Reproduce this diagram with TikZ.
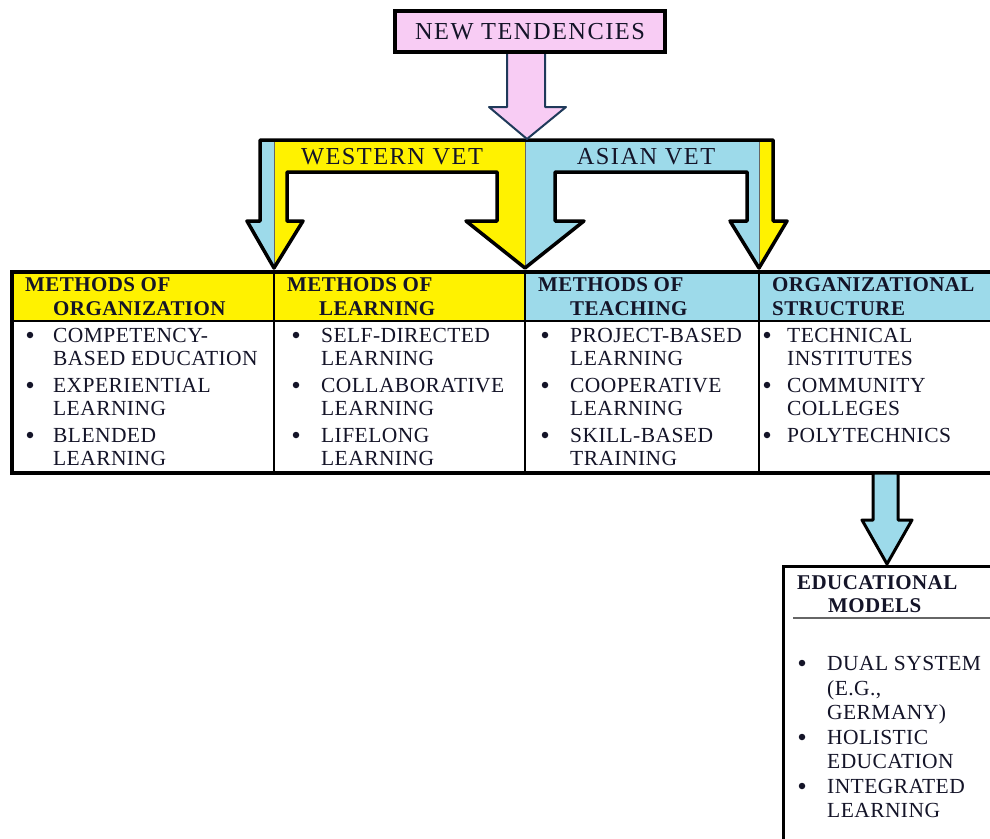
\documentclass[tikz,border=0pt]{standalone}
\usepackage{fontspec}
\setmainfont{Liberation Serif}
\newfontfamily\bodyf{Liberation Serif}[LetterSpace=2]
\newfontfamily\headf{Liberation Serif}[LetterSpace=2]
\newfontfamily\topf{Liberation Serif}[LetterSpace=6]
\definecolor{vyel}{HTML}{FFF200}
\definecolor{vblu}{HTML}{9DDAEA}
\definecolor{vpnk}{HTML}{F8CCF4}
\definecolor{navy}{HTML}{1F3A5A}
\definecolor{ink}{HTML}{141428}
\tikzset{
  bodytxt/.style={anchor=base west, inner sep=0pt, font=\bodyf\fontsize{21.5}{24}\selectfont, text=ink},
  headtxt/.style={anchor=base west, inner sep=0pt, font=\headf\bfseries\fontsize{21}{24}\selectfont, text=ink},
  toptxt/.style={inner sep=0pt, font=\topf\fontsize{24.4}{27}\selectfont, text=ink},
  bul/.style={circle, fill=ink, inner sep=0pt, minimum size=6.5pt},
  thick line/.style={line width=3.5pt, line join=round},
  divider/.style={line width=0.8pt, draw=black!60},
}
\begin{document}
\begin{tikzpicture}[x=1pt,y=-1pt]
\useasboundingbox (0,0) rectangle (990,838);
\clip (0,0) rectangle (990,838);
\fill[white] (0,0) rectangle (990,838);

% ---- Western VET (yellow) ----
\fill[vyel] (260,140) -- (525,140) -- (525,268) -- (466,221) -- (497,221) -- (497,172) -- (287,172) -- (287,221) -- (303,221) -- (274,268) -- (247,221) -- (260,221) -- cycle;
\begin{scope}
  \clip (200,130) rectangle (274,280);
  \fill[vblu] (260,140) -- (525,140) -- (525,268) -- (466,221) -- (497,221) -- (497,172) -- (287,172) -- (287,221) -- (303,221) -- (274,268) -- (247,221) -- (260,221) -- cycle;
\end{scope}
% ---- Asian VET (blue) ----
\fill[vblu] (525,140) -- (773,140) -- (773,221) -- (787,221) -- (759,268) -- (730,221) -- (747,221) -- (747,172) -- (555,172) -- (555,221) -- (584,221) -- (525,268) -- cycle;
\begin{scope}
  \clip (759,130) rectangle (800,280);
  \fill[vyel] (525,140) -- (773,140) -- (773,221) -- (787,221) -- (759,268) -- (730,221) -- (747,221) -- (747,172) -- (555,172) -- (555,221) -- (584,221) -- (525,268) -- cycle;
\end{scope}
\draw[divider] (274,140) -- (274,268);
\draw[divider] (525,140) -- (525,268);
\draw[divider] (759,140) -- (759,268);
\draw[thick line] (260,140) -- (773,140) -- (773,221) -- (787,221) -- (759,268) -- (730,221) -- (747,221) -- (747,172) -- (555,172) -- (555,221) -- (584,221) -- (525,268) -- (466,221) -- (497,221) -- (497,172) -- (287,172) -- (287,221) -- (303,221) -- (274,268) -- (247,221) -- (260,221) -- cycle;
\node[toptxt] (west) at (392,157) {WESTERN VET};
\node[toptxt] (asia) at (646,157) {ASIAN VET};

% ---- New tendencies ----
\draw[fill=vpnk, draw=navy, line width=2pt, line join=round] (507,52) -- (545,52) -- (545,107) -- (566,107) -- (527,139) -- (489,107) -- (507,107) -- cycle;
\node[draw=black, fill=vpnk, line width=3.5pt, minimum width=270pt, minimum height=41pt, inner sep=0pt, font=\topf\fontsize{24.4}{27}\selectfont, text=ink] (nt) at (530,31.5) {NEW TENDENCIES};

% ---- Table ----
\fill[vyel] (12,272) rectangle (525,321);
\fill[vblu] (525,272) rectangle (1000,321);
\draw[line width=1.5pt] (274,272) -- (274,473);
\draw[line width=1.5pt] (525,272) -- (525,473);
\draw[line width=1.5pt] (759,272) -- (759,473);
\draw[line width=2.5pt] (12,321) -- (1000,321);
\draw[line width=3.5pt] (1000,272) -- (12,272) -- (12,473) -- (1000,473);

% headers
\node[headtxt] (h1a) at (25,291.5) {METHODS OF};
\node[headtxt] (h1b) at (53,315) {ORGANIZATION};
\node[headtxt] (h2a) at (287,291.5) {METHODS OF};
\node[headtxt] (h2b) at (319,315) {LEARNING};
\node[headtxt] (h3a) at (538,291.5) {METHODS OF};
\node[headtxt] (h3b) at (570,315) {TEACHING};
\node[headtxt] (h4a) at (772,291.5) {ORGANIZATIONAL};
\node[headtxt] (h4b) at (772,315) {STRUCTURE};

% column 1
\node[bul] (b11) at (30,335) {};
\node[bul] (b12) at (30,385) {};
\node[bul] (b13) at (30,435) {};
\node[bodytxt] (t11) at (53,342) {COMPETENCY-};
\node[bodytxt] (t12) at (53,365) {BASED EDUCATION};
\node[bodytxt] (t13) at (53,392) {EXPERIENTIAL};
\node[bodytxt] (t14) at (53,415) {LEARNING};
\node[bodytxt] (t15) at (53,442) {BLENDED};
\node[bodytxt] (t16) at (53,465) {LEARNING};
% column 2
\node[bul] (b21) at (296,335) {};
\node[bul] (b22) at (296,385) {};
\node[bul] (b23) at (296,435) {};
\node[bodytxt] (t21) at (321,342) {SELF-DIRECTED};
\node[bodytxt] (t22) at (321,365) {LEARNING};
\node[bodytxt] (t23) at (321,392) {COLLABORATIVE};
\node[bodytxt] (t24) at (321,415) {LEARNING};
\node[bodytxt] (t25) at (321,442) {LIFELONG};
\node[bodytxt] (t26) at (321,465) {LEARNING};
% column 3
\node[bul] (b31) at (545,335) {};
\node[bul] (b32) at (545,385) {};
\node[bul] (b33) at (545,435) {};
\node[bodytxt] (t31) at (570,342) {PROJECT-BASED};
\node[bodytxt] (t32) at (570,365) {LEARNING};
\node[bodytxt] (t33) at (570,392) {COOPERATIVE};
\node[bodytxt] (t34) at (570,415) {LEARNING};
\node[bodytxt] (t35) at (570,442) {SKILL-BASED};
\node[bodytxt] (t36) at (570,465) {TRAINING};
% column 4
\node[bul] (b41) at (767,335) {};
\node[bul] (b42) at (767,385) {};
\node[bul] (b43) at (767,435) {};
\node[bodytxt] (t41) at (787,342) {TECHNICAL};
\node[bodytxt] (t42) at (787,365) {INSTITUTES};
\node[bodytxt] (t43) at (787,392) {COMMUNITY};
\node[bodytxt] (t44) at (787,415) {COLLEGES};
\node[bodytxt] (t45) at (787,442) {POLYTECHNICS};

% ---- arrow to educational models ----
\draw[fill=vblu, line width=3pt, line join=round] (873,473) -- (898,473) -- (898,520) -- (912,520) -- (887,564) -- (862,520) -- (873,520) -- cycle;

% ---- Educational models ----
\draw[line width=3pt] (1000,566) -- (783,566) -- (783,900);
\draw[line width=1.2pt, draw=black!60] (793,618) -- (1000,618);
\node[headtxt] (e1) at (797,589) {EDUCATIONAL};
\node[headtxt] (e2) at (828,612) {MODELS};
\node[bul] (eb1) at (802,663) {};
\node[bul] (eb2) at (802,737) {};
\node[bul] (eb3) at (802,786) {};
\node[bodytxt] (et1) at (827,670) {DUAL SYSTEM};
\node[bodytxt] (et2) at (827,695) {(E.G.,};
\node[bodytxt] (et3) at (827,719) {GERMANY)};
\node[bodytxt] (et4) at (827,744) {HOLISTIC};
\node[bodytxt] (et5) at (827,768) {EDUCATION};
\node[bodytxt] (et6) at (827,793) {INTEGRATED};
\node[bodytxt] (et7) at (827,817) {LEARNING};
\end{tikzpicture}
\end{document}
